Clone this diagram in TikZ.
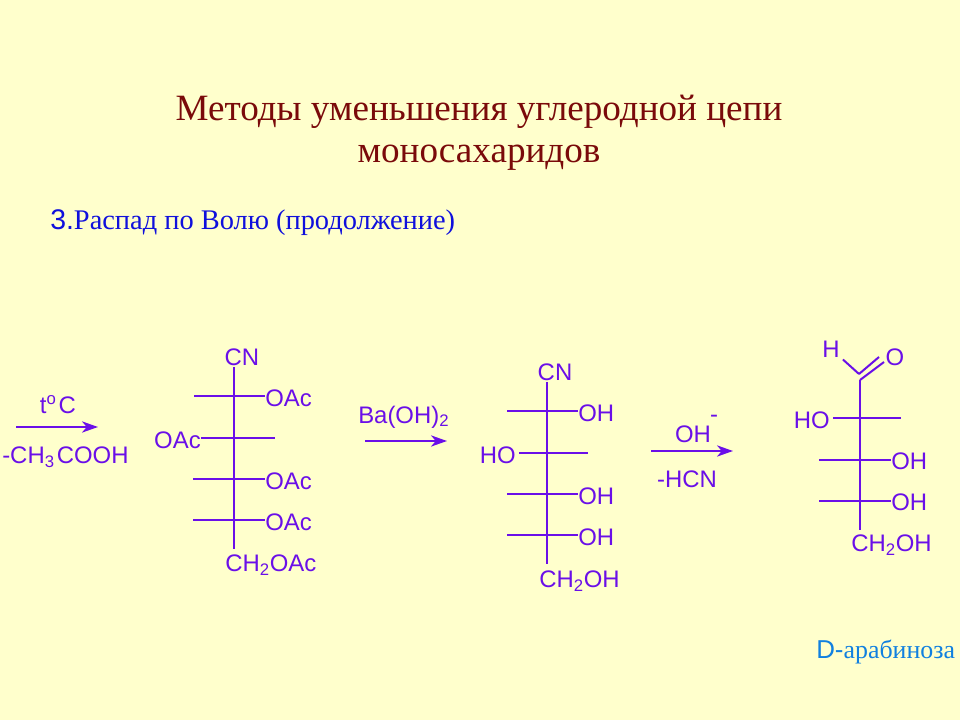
\documentclass[tikz,border=0pt]{standalone}
\usepackage{fontspec}
\setmainfont{Liberation Serif}
\newfontfamily\arialfont{Liberation Sans}
\usetikzlibrary{arrows.meta}
\definecolor{slidebg}{HTML}{FFFFCC}
\definecolor{chempurple}{HTML}{6A0FE8}
\definecolor{titlered}{HTML}{7A0A0A}
\definecolor{headblue}{HTML}{1010DC}
\definecolor{nameblue}{HTML}{1080E0}
\tikzset{
	atom/.style={text=chempurple, inner sep=0pt, font=\arialfont\fontsize{17}{20}\selectfont},
	bond/.style={draw=chempurple, line width=0.5mm},
	react/.style={draw=chempurple, line width=0.5mm, -{Stealth[length=4mm,width=2.8mm,inset=1.2mm]}}
}

\begin{document}
\begin{tikzpicture}[x=0.025cm, y=-0.025cm]
	\fill[slidebg] (0, 0) rectangle (960, 720);
	
	\node[text=titlered, align=center, font=\fontsize{26.4}{29.8}\selectfont] (title) at (479, 133) {Методы уменьшения углеродной цепи\\моносахаридов};
	\node[text=headblue, anchor=west, inner sep=0pt, font=\fontsize{20.2}{24}\selectfont] (head) at (50, 223) {{\arialfont 3.}Распад по Волю (продолжение)};
	
	% first arrow
	\coordinate (arrowAs) at (16, 427);
	\coordinate (arrowAe) at (98, 427);
	\draw[react] (arrowAs) -- (arrowAe);
	\node[atom] (temp) at (58, 405) {t\textsuperscript{o}\kern1.5pt C};
	\node[atom, anchor=west] (acid) at (2, 457) {-CH\textsubscript{3}\kern1.5pt COOH};
	
	% nitrile acetate
	\node[atom] (cnA) at (242, 357) {CN};
	\node[atom, anchor=west] (oacAa) at (265, 398) {OAc};
	\node[atom, anchor=east] (oacAb) at (201, 440) {OAc};
	\node[atom, anchor=west] (oacAc) at (265, 481) {OAc};
	\node[atom, anchor=west] (oacAd) at (265, 522) {OAc};
	\node[atom, anchor=west] (endA) at (225, 565) {CH\textsubscript{2}OAc};
	\coordinate (topA) at (234, 367);
	\coordinate (botA) at (234, 549);
	\coordinate (freeAa) at (194, 396);
	\coordinate (freeAb) at (275, 438);
	\coordinate (freeAc) at (193, 479);
	\coordinate (freeAd) at (193, 520);
	\draw[bond] (topA) -- (botA);
	\draw[bond] (freeAa) -- (oacAa.west |- freeAa);
	\draw[bond] (oacAb.east |- freeAb) -- (freeAb);
	\draw[bond] (freeAc) -- (oacAc.west |- freeAc);
	\draw[bond] (freeAd) -- (oacAd.west |- freeAd);
	
	% second arrow
	\coordinate (arrowBs) at (365, 441);
	\coordinate (arrowBe) at (447, 441);
	\draw[react] (arrowBs) -- (arrowBe);
	\node[atom, anchor=west] (base) at (358, 417) {Ba(OH)\textsubscript{2}};
	
	% nitrile
	\node[atom] (cnB) at (555, 372) {CN};
	\node[atom, anchor=west] (ohBa) at (578, 413) {OH};
	\node[atom, anchor=east] (hoBb) at (516, 455) {HO};
	\node[atom, anchor=west] (ohBc) at (578, 496) {OH};
	\node[atom, anchor=west] (ohBd) at (578, 537) {OH};
	\node[atom, anchor=west] (endB) at (539, 581) {CH\textsubscript{2}OH};
	\coordinate (topB) at (547, 382);
	\coordinate (botB) at (547, 564);
	\coordinate (freeBa) at (507, 411);
	\coordinate (freeBb) at (588, 453);
	\coordinate (freeBc) at (507, 494);
	\coordinate (freeBd) at (507, 535);
	\draw[bond] (topB) -- (botB);
	\draw[bond] (freeBa) -- (ohBa.west |- freeBa);
	\draw[bond] (hoBb.east |- freeBb) ++(3, 0) -- (freeBb);
	\draw[bond] (freeBc) -- (ohBc.west |- freeBc);
	\draw[bond] (freeBd) -- (ohBd.west |- freeBd);
	
	% third arrow
	\coordinate (arrowCs) at (651, 451);
	\coordinate (arrowCe) at (733, 451);
	\draw[react] (arrowCs) -- (arrowCe);
	\node[atom] (hydrox) at (693, 434) {OH};
	\node[atom] (minus) at (714, 419) {-};
	\node[atom] (loss) at (687, 479) {-HCN};
	
	% arabinose
	\node[atom] (hC) at (831, 349) {H};
	\node[atom] (oC) at (895, 357) {O};
	\node[atom, anchor=east] (hoCa) at (830, 420) {HO};
	\node[atom, anchor=west] (ohCb) at (891, 461) {OH};
	\node[atom, anchor=west] (ohCc) at (891, 502) {OH};
	\node[atom, anchor=west] (endC) at (851, 545) {CH\textsubscript{2}OH};
	\coordinate (topC) at (860, 380);
	\coordinate (botC) at (860, 530);
	\coordinate (dblC) at (859, 374);
	\coordinate (freeCa) at (901, 418);
	\coordinate (freeCb) at (819, 460);
	\coordinate (freeCc) at (819, 501);
	\draw[bond] (topC) -- (botC);
	\draw[bond] (hC.south east) ++(3, 2) -- (dblC);
	\draw[bond] (topC) -- (884, 362);
	\draw[bond] (dblC) -- (879, 357);
	\draw[bond] (hoCa.east |- freeCa) ++(3, 0) -- (freeCa);
	\draw[bond] (freeCb) -- (ohCb.west |- freeCb);
	\draw[bond] (freeCc) -- (ohCc.west |- freeCc);
	
	\node[text=nameblue, anchor=west, inner sep=0pt, font=\fontsize{18.4}{22}\selectfont] (name) at (816, 652) {{\arialfont D-}арабиноза};
\end{tikzpicture}
\end{document}
